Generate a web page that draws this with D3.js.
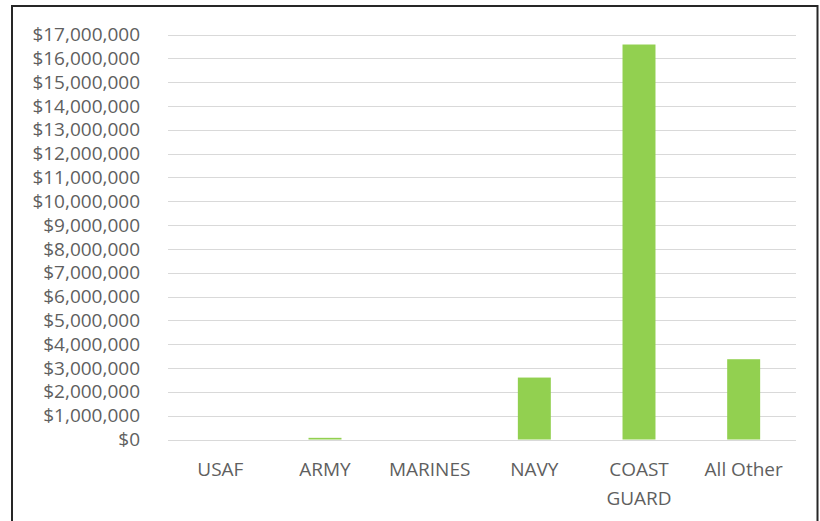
<!DOCTYPE html>
<html>
<head>
<meta charset="utf-8">
<script src="https://cdn.jsdelivr.net/npm/d3@7"></script>
<style>
  html, body { margin: 0; padding: 0; background: #ffffff; }
  svg { display: block; }
  text { font-family: "Open Sans", sans-serif; fill: #5f5f5f; }
</style>
</head>
<body>
<script>
const categories = ["USAF", "ARMY", "MARINES", "NAVY", "COAST GUARD", "All Other"];
const values = [0, 70000, 0, 2600000, 16580000, 3370000];
const yTicks = [0, 1000000, 2000000, 3000000, 4000000, 5000000, 6000000, 7000000, 8000000,
  9000000, 10000000, 11000000, 12000000, 13000000, 14000000, 15000000, 16000000, 17000000];

const W = 820, H = 521;
const svg = d3.select("body").append("svg").attr("width", W).attr("height", H);

svg.append("rect").attr("x", 0).attr("y", 0).attr("width", W).attr("height", H).attr("fill", "#fff");

// frame
svg.append("rect")
  .attr("x", 12).attr("y", 6).attr("width", 805.5).attr("height", 530)
  .attr("fill", "none").attr("stroke", "#262626").attr("stroke-width", 2);

const x = d3.scaleBand().domain(categories).range([168, 796])
  .paddingInner(0.685).paddingOuter(0.3425);
const y = d3.scaleLinear().domain([0, 17000000]).range([439.5, 34.5]);

// gridlines
svg.append("g").selectAll("line").data(yTicks).join("line")
  .attr("x1", 168).attr("x2", 796)
  .attr("y1", d => Math.round(y(d)) + 0.5).attr("y2", d => Math.round(y(d)) + 0.5)
  .attr("stroke", "#d9d9d9").attr("stroke-width", 1);

// y axis labels
const fmt = d3.format(",");
const yAxis = d3.axisLeft(y).tickValues(yTicks).tickSize(0).tickPadding(0)
  .tickFormat(d => "$" + fmt(d));
const gy = svg.append("g").attr("transform", "translate(140,0)").call(yAxis);
gy.select(".domain").remove();
gy.selectAll("text").attr("font-size", 19).attr("fill", "#5f5f5f")
  .style("font-family", '"Open Sans", sans-serif');

// bars
svg.append("g").selectAll("rect").data(values).join("rect")
  .attr("x", (d, i) => x(categories[i]))
  .attr("width", x.bandwidth())
  .attr("y", d => y(d))
  .attr("height", d => y(0) - y(d))
  .attr("fill", "#92d050");

// x axis labels
const xAxis = d3.axisBottom(x).tickSize(0).tickPadding(0);
const gx = svg.append("g").attr("transform", "translate(0,462)").call(xAxis);
gx.select(".domain").remove();
gx.selectAll("text")
  .attr("font-size", 19).attr("fill", "#5f5f5f")
  .style("font-family", '"Open Sans", sans-serif')
  .attr("dy", null).attr("y", 0)
  .each(function(d) {
    const t = d3.select(this);
    const words = d.split(" ");
    t.text(null);
    let line = [];
    let lineNo = 0;
    let tspan = t.append("tspan").attr("x", 0).attr("y", 14);
    words.forEach(w => {
      line.push(w);
      tspan.text(line.join(" "));
      if (this.getComputedTextLength() > x.step() * 0.95 && line.length > 1) {
        line.pop();
        tspan.text(line.join(" "));
        line = [w];
        lineNo++;
        tspan = t.append("tspan").attr("x", 0).attr("y", 14 + lineNo * 29).text(w);
      }
    });
  });
</script>
</body>
</html>
